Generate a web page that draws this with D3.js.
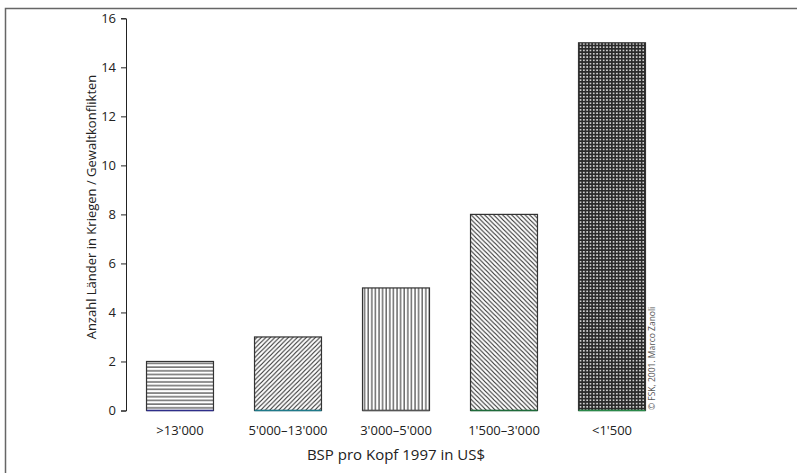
<!DOCTYPE html>
<html>
<head>
<meta charset="utf-8">
<script src="https://cdn.jsdelivr.net/npm/d3@7"></script>
<style>
  body { margin: 0; background: #fff; }
  svg { display: block; }
</style>
</head>
<body>
<div id="chart"></div>
<script>
// Data
const categories = [">13'000", "5'000\u201313'000", "3'000\u20135'000", "1'500\u20133'000", "<1'500"];
const counts = [2, 3, 5, 8, 15];
const patterns = ["hlines", "diagUp", "vlines", "diagDown", "grid"];
const baseColors = ["#2e2e8a", "#1f7a8a", "#555555", "#1e6b3a", "#2a8a4a"];
const yTicks = [0, 2, 4, 6, 8, 10, 12, 14, 16];

const FONT = '"Open Sans", "Noto Sans", sans-serif';
const width = 797, height = 473;
const margin = {top: 18.3, right: 131, bottom: 62.5, left: 126};
const innerWidth = width - margin.left - margin.right,
      innerHeight = height - margin.top - margin.bottom;

const svg = d3.select('#chart')
  .append('svg')
    .attr('width', width)
    .attr('height', height)
    .attr('font-family', FONT);

// Frame: only the left and top edges show in the picture
svg.append('path')
  .attr('d', `M5.5,${height} V8.5 H${width}`)
  .style('fill', 'none')
  .style('stroke', '#666')
  .style('stroke-width', 1.5);

// Hatch patterns
const defs = svg.append('defs');
function addPattern(id, size, draw) {
  const p = defs.append('pattern')
    .attr('id', id)
    .attr('patternUnits', 'userSpaceOnUse')
    .attr('width', size).attr('height', size);
  p.append('rect').attr('width', size).attr('height', size).style('fill', '#fff');
  draw(p, size);
}
addPattern('hlines', 3.7, (p, s) => {
  p.append('line').attr('x1', 0).attr('x2', s).attr('y1', 1).attr('y2', 1)
    .style('stroke', '#222').style('stroke-width', 1);
});
addPattern('vlines', 3.6, (p, s) => {
  p.append('line').attr('y1', 0).attr('y2', s).attr('x1', 1).attr('x2', 1)
    .style('stroke', '#222').style('stroke-width', 1);
});
addPattern('diagUp', 4.5, (p, s) => {
  p.append('path').attr('d', `M0,${s} L${s},0 M${-s/2},${s/2} L${s/2},${-s/2} M${s/2},${s*1.5} L${s*1.5},${s/2}`)
    .style('stroke', '#222').style('stroke-width', 1);
});
addPattern('diagDown', 4.5, (p, s) => {
  p.append('path').attr('d', `M0,0 L${s},${s} M${-s/2},${s/2} L${s/2},${s*1.5} M${s/2},${-s/2} L${s*1.5},${s/2}`)
    .style('stroke', '#222').style('stroke-width', 1);
});
addPattern('grid', 3.3, (p, s) => {
  p.append('rect').attr('width', s).attr('height', s).style('fill', '#cfcfcf');
  p.append('path').attr('d', `M0,0.8 H${s} M0.8,0 V${s}`)
    .style('stroke', '#2a2a2a').style('stroke-width', 1.6);
});

const g = svg.append('g')
  .attr('transform', `translate(${margin.left},${margin.top})`);

// Scales
const x = d3.scaleBand()
  .domain(categories)
  .range([0, innerWidth])
  .paddingInner(0.38)
  .paddingOuter(0.19);

const y = d3.scaleLinear()
  .domain([0, 16])
  .range([innerHeight, 0]);

// Y axis
g.append('g')
  .call(d3.axisLeft(y).tickValues(yTicks).tickSize(5).tickPadding(5))
  .attr('font-family', FONT)
  .attr('font-size', 13)
  .call(a => a.select('.domain').attr('d', `M-5,${innerHeight + 0.5}H0.5V0.5H-5`).attr('stroke', '#222'))
  .call(a => a.selectAll('.tick line').attr('stroke', '#222'))
  .call(a => a.selectAll('.tick text').attr('fill', '#222'));

// X tick labels (no axis line)
g.append('g')
  .attr('transform', `translate(0,${innerHeight})`)
  .call(d3.axisBottom(x).tickSize(0).tickPadding(15))
  .attr('font-family', FONT)
  .attr('font-size', 13)
  .call(a => a.select('.domain').remove())
  .call(a => a.selectAll('.tick text').attr('fill', '#222'));

// Bars
const bars = g.selectAll('.bar')
  .data(categories)
  .enter()
  .append('g')
    .classed('bar', true);

bars.append('rect')
  .attr('x', d => x(d))
  .attr('y', (d, i) => y(counts[i]))
  .attr('width', x.bandwidth())
  .attr('height', (d, i) => innerHeight - y(counts[i]))
  .style('fill', (d, i) => `url(#${patterns[i]})`)
  .style('stroke', '#333')
  .style('stroke-width', 1.2);

// Coloured base line under each bar
bars.append('line')
  .attr('x1', d => x(d))
  .attr('x2', d => x(d) + x.bandwidth())
  .attr('y1', innerHeight)
  .attr('y2', innerHeight)
  .style('stroke', (d, i) => baseColors[i])
  .style('stroke-width', 1.5);

// Axis titles
svg.append('text')
  .attr('transform', `translate(96,207) rotate(-90)`)
  .attr('text-anchor', 'middle')
  .attr('font-size', 13)
  .attr('fill', '#222')
  .text('Anzahl L\u00e4nder in Kriegen / Gewaltkonflikten');

svg.append('text')
  .attr('x', margin.left + innerWidth / 2)
  .attr('y', 460)
  .attr('text-anchor', 'middle')
  .attr('font-size', 15)
  .attr('fill', '#222')
  .text('BSP pro Kopf 1997 in US$');

// Credit
svg.append('text')
  .attr('transform', `translate(655,410) rotate(-90)`)
  .attr('text-anchor', 'start')
  .attr('font-size', 8.5)
  .attr('fill', '#555')
  .text('\u00a9 FSK, 2001. Marco Zanoli');
</script>
</body>
</html>
